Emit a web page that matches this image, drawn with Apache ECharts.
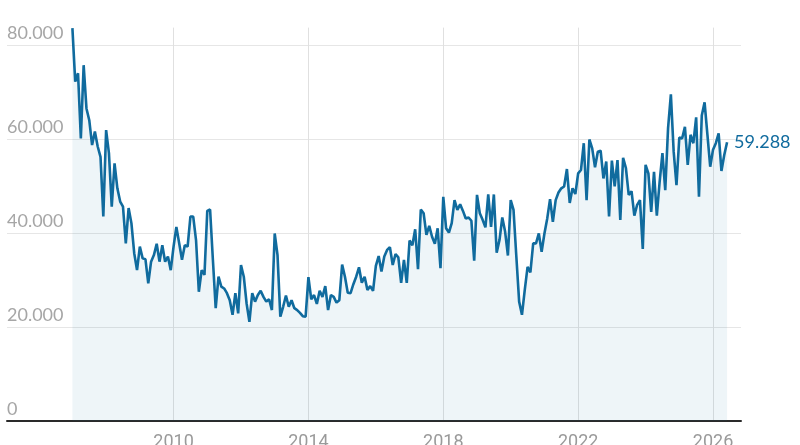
<!DOCTYPE html>
<html>
<head>
<meta charset="utf-8">
<script src="https://cdn.jsdelivr.net/npm/echarts@6/dist/echarts.min.js"></script>
<style>
html,body{margin:0;padding:0;background:#fff;}
#chart{width:800px;height:445px;}
</style>
</head>
<body>
<div id="chart"></div>
<script>
// Monthly values, January 2007 to June 2026
const startYear = 2007;
const values = [
  // 2007
  83600, 72200, 74000, 60100, 75700, 66500, 64000, 58700, 61600, 58400, 56200, 43500,
  // 2008
  61900, 57000, 45600, 54800, 49500, 46700, 45600, 37800, 45300, 42100, 35700, 32100,
  // 2009
  37100, 34600, 34400, 29300, 33900, 35300, 37700, 33900, 37400, 33900, 35000, 32100,
  // 2010
  37100, 41300, 37800, 34300, 37400, 37100, 43500, 43500, 38500, 27500, 32100, 31100,
  // 2011
  44700, 45000, 34300, 24000, 30700, 28600, 28200, 27200, 25700, 22600, 27200, 22900,
  // 2012
  33200, 30700, 25000, 21100, 27200, 25400, 26800, 27700, 26400, 25400, 25900, 23600,
  // 2013
  39900, 35300, 22200, 24300, 26700, 24300, 25700, 24000, 23600, 23000, 22300, 22200,
  // 2014
  30600, 25900, 26800, 24900, 27700, 26400, 28700, 23600, 26800, 26400, 25200, 25700,
  // 2015
  33300, 30700, 27300, 27200, 29100, 30700, 32700, 29400, 30700, 27900, 28700, 27700,
  // 2016
  33000, 35100, 31800, 35000, 36400, 37000, 33200, 35500, 34800, 29400, 34300, 29400,
  // 2017
  38400, 37400, 40800, 32300, 45000, 44200, 39600, 41500, 39200, 37700, 41000, 32500,
  // 2018
  47700, 41000, 40100, 42100, 47000, 44900, 46100, 44700, 43100, 43300, 42600, 34100,
  // 2019
  48100, 44200, 42800, 41200, 48200, 41300, 48200, 35800, 38500, 43300, 40300, 35200,
  // 2020
  47000, 44900, 35000, 25400, 22600, 27900, 32800, 31600, 37800, 37800, 39900, 36000,
  // 2021
  39900, 43100, 47200, 42400, 47000, 48600, 49500, 49900, 53600, 46400, 49500, 48300,
  // 2022
  52700, 53400, 59100, 47000, 59900, 58000, 54000, 57300, 57500, 51600, 55200, 43500,
  // 2023
  55400, 49900, 55500, 42800, 56000, 53800, 48100, 48900, 43700, 46000, 47000, 36600,
  // 2024
  54500, 52700, 44500, 53000, 43700, 50900, 57000, 49100, 62300, 69500, 57300, 50200,
  // 2025
  60300, 60100, 62600, 54500, 60900, 59100, 64600, 47700, 65000, 67800, 61000, 54100,
  // 2026
  57700, 59100, 61200, 53200, 56600, 59288
];
const xTicks = [2010, 2014, 2018, 2022, 2026];
const yTicks = [0, 20000, 40000, 60000, 80000];

function fmtDE(v) {
  return String(Math.round(v)).replace(/\B(?=(\d{3})+(?!\d))/g, '.');
}

const seriesData = values.map((v, i) => [startYear + i / 12, v]);
const blue = '#106b9e';

const chart = echarts.init(document.getElementById('chart'), null, {renderer: 'canvas'});
chart.setOption({
  animation: false,
  textStyle: {fontFamily: 'Lato, sans-serif'},
  grid: {left: 7, right: 59, top: 27.6, bottom: 24, containLabel: false, outerBoundsMode: 'none'},
  xAxis: {
    type: 'value',
    min: 2005.06,
    max: 2026.83,
    axisLine: {show: true, onZero: false, lineStyle: {color: '#2a2a2a', width: 2}},
    axisTick: {show: false, customValues: xTicks},
    axisLabel: {
      customValues: xTicks,
      formatter: v => String(Math.round(v)),
      color: '#9a9a9a',
      fontSize: 18,
      fontFamily: 'Roboto, sans-serif',
      margin: 12
    },
    splitLine: {show: true, lineStyle: {color: '#e0e0e0', width: 1}}
  },
  yAxis: {
    type: 'value',
    min: 0,
    max: 83700,
    axisLine: {show: false},
    axisTick: {show: false, customValues: yTicks},
    axisLabel: {
      customValues: yTicks,
      inside: true,
      margin: 0,
      formatter: v => fmtDE(v),
      color: '#a6a6a6',
      fontSize: 18,
      verticalAlign: 'bottom',
      padding: [0, 0, 3, 0]
    },
    splitLine: {show: true, lineStyle: {color: '#e6e6e6', width: 1.2}}
  },
  series: [{
    type: 'line',
    data: seriesData,
    symbol: 'none',
    smooth: false,
    lineStyle: {color: blue, width: 2.6},
    areaStyle: {color: 'rgba(16,107,158,0.1)'},
    endLabel: {
      show: true,
      formatter: p => fmtDE(p.value[1]),
      color: blue,
      fontSize: 18,
      distance: 7
    },
    z: 2
  }]
});
</script>
</body>
</html>
